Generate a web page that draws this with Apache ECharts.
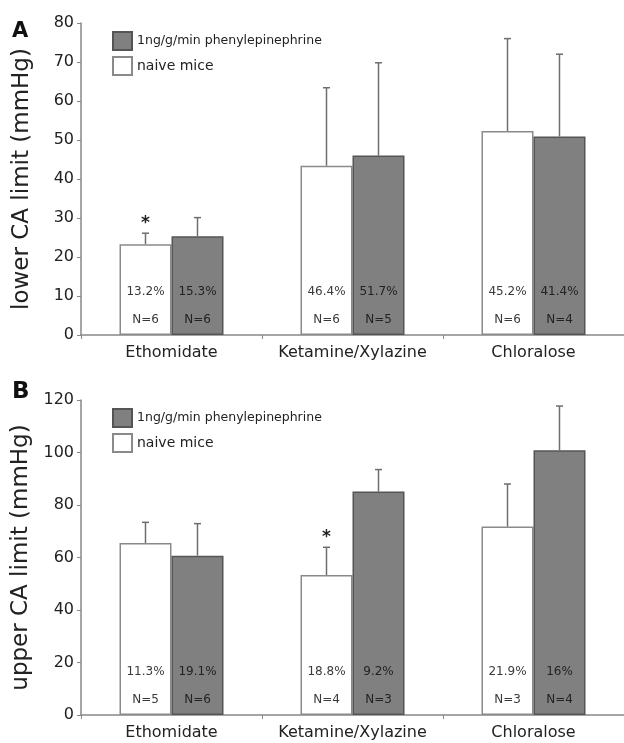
<!DOCTYPE html>
<html><head><meta charset="utf-8">
<script src="https://cdn.jsdelivr.net/npm/echarts@6/dist/echarts.min.js"></script>
<style>html,body{margin:0;padding:0;background:#fff}#c{width:624px;height:743px}</style>
</head><body><div id="c"></div>
<script>
const categories = ['Ethomidate', 'Ketamine/Xylazine', 'Chloralose'];
const seriesNames = ['naive mice', '1ng/g/min phenylepinephrine'];

// Panel A: lower CA limit
const lowerNaive = [23.3, 43.4, 52.3];
const lowerNaiveErr = [2.8, 20.0, 23.7];
const lowerPhe = [25.3, 46.0, 50.9];
const lowerPheErr = [4.8, 23.8, 21.1];
const lowerNaivePct = ['13.2%', '46.4%', '45.2%'];
const lowerPhePct = ['15.3%', '51.7%', '41.4%'];
const lowerNaiveN = ['N=6', 'N=6', 'N=6'];
const lowerPheN = ['N=6', 'N=5', 'N=4'];
const lowerNaiveStar = [true, false, false];
const lowerPheStar = [false, false, false];

// Panel B: upper CA limit
const upperNaive = [65.5, 53.3, 71.8];
const upperNaiveErr = [7.9, 10.6, 16.2];
const upperPhe = [60.7, 85.1, 100.9];
const upperPheErr = [12.2, 8.4, 16.8];
const upperNaivePct = ['11.3%', '18.8%', '21.9%'];
const upperPhePct = ['19.1%', '9.2%', '16%'];
const upperNaiveN = ['N=5', 'N=4', 'N=3'];
const upperPheN = ['N=6', 'N=3', 'N=4'];
const upperNaiveStar = [false, true, false];
const upperPheStar = [false, false, false];

const yTicksA = {min: 0, max: 80, interval: 10};
const yTicksB = {min: 0, max: 120, interval: 20};

const FONT = 'DejaVu Sans';
const BAR_W = 52;
const naiveStyle = {color: '#ffffff', borderColor: '#8a8a8a', borderWidth: 1.5};
const pheStyle = {color: '#808080', borderColor: '#555555', borderWidth: 1.5};

function barSeries(name, idx, vals, style) {
  return {
    type: 'bar', name: name, xAxisIndex: idx, yAxisIndex: idx,
    data: vals, barWidth: BAR_W, barGap: '0%', itemStyle: style,
    emphasis: {disabled: true}, silent: true
  };
}

function annSeries(idx, side, vals, errs, pcts, ns, stars, txtColor) {
  return {
    type: 'custom', xAxisIndex: idx, yAxisIndex: idx, silent: true, z: 5,
    data: vals.map((v, i) => [i, v, v + errs[i]]),
    renderItem: function (params, api) {
      const i = params.dataIndex;
      const top = api.coord([api.value(0), api.value(1)]);
      const err = api.coord([api.value(0), api.value(2)]);
      const zero = api.coord([api.value(0), 0]);
      const x = top[0] + side * BAR_W / 2;
      const lineStyle = {stroke: '#6e6e6e', lineWidth: 1.5};
      const children = [
        {type: 'line', shape: {x1: x, y1: top[1], x2: x, y2: err[1]}, style: lineStyle},
        {type: 'line', shape: {x1: x - 3.5, y1: err[1], x2: x + 3.5, y2: err[1]}, style: lineStyle},
        {type: 'text', x: x, y: zero[1] - 43, style: {text: pcts[i], fill: txtColor, font: '12px "' + FONT + '"', textAlign: 'center', textVerticalAlign: 'middle'}},
        {type: 'text', x: x, y: zero[1] - 15, style: {text: ns[i], fill: txtColor, font: '12px "' + FONT + '"', textAlign: 'center', textVerticalAlign: 'middle'}}
      ];
      if (stars[i]) {
        children.push({type: 'text', x: x, y: err[1] - 10, style: {text: '*', fill: '#222', font: 'bold 17px "' + FONT + '"', textAlign: 'center', textVerticalAlign: 'middle'}});
      }
      return {type: 'group', children: children};
    }
  };
}

function xAxis(idx) {
  return {
    type: 'category', gridIndex: idx, data: categories, boundaryGap: true,
    axisLine: {lineStyle: {color: '#888', width: 1.5}},
    axisTick: {show: true, length: 4, alignWithLabel: false, lineStyle: {color: '#888'}},
    axisLabel: {color: '#222', fontSize: 16, fontFamily: FONT, margin: 10, interval: 0, hideOverlap: false}
  };
}
function yAxis(idx, ticks, name) {
  return {
    type: 'value', gridIndex: idx, min: ticks.min, max: ticks.max, interval: ticks.interval,
    name: name, nameLocation: 'middle', nameGap: 47, nameRotate: 90,
    nameTextStyle: {color: '#222', fontSize: 23, fontFamily: FONT},
    axisLine: {show: true, lineStyle: {color: '#888', width: 1.5}},
    axisTick: {show: true, length: 4, lineStyle: {color: '#888'}},
    axisLabel: {color: '#222', fontSize: 16, fontFamily: FONT, margin: 7},
    splitLine: {show: false}
  };
}
function legend(top) {
  return {
    orient: 'vertical', left: 112, top: top, padding: 0, icon: 'rect',
    itemWidth: 19, itemHeight: 18, itemGap: 5,
    data: [seriesNames[1], seriesNames[0]], selectedMode: false,
    formatter: n => n === 'naive mice' ? '{b|' + n + '}' : '{a|' + n + '}',
    textStyle: {color: '#222', fontFamily: FONT,
      rich: {a: {fontSize: 12.5, fontFamily: FONT, color: '#222'}, b: {fontSize: 14, fontFamily: FONT, color: '#222'}}}
  };
}

const chart = echarts.init(document.getElementById('c'), null, {renderer: 'canvas'});
chart.setOption({
  animation: false,
  backgroundColor: '#fff',
  title: [
    {text: 'A', left: 12, top: 21, padding: 0, textStyle: {fontFamily: 'DejaVu Sans', fontWeight: 'bold', fontSize: 21, color: '#111'}},
    {text: 'B', left: 12, top: 381, padding: 0, textStyle: {fontFamily: 'DejaVu Sans', fontWeight: 'bold', fontSize: 23, color: '#111'}}
  ],
  legend: [legend(31), legend(408)],
  grid: [
    {left: 81, top: 23, height: 312, right: 0},
    {left: 81, top: 400, height: 315, right: 0}
  ],
  xAxis: [xAxis(0), xAxis(1)],
  yAxis: [yAxis(0, yTicksA, 'lower CA limit (mmHg)'), yAxis(1, yTicksB, 'upper CA limit (mmHg)')],
  series: [
    barSeries(seriesNames[0], 0, lowerNaive, naiveStyle),
    barSeries(seriesNames[1], 0, lowerPhe, pheStyle),
    barSeries(seriesNames[0], 1, upperNaive, naiveStyle),
    barSeries(seriesNames[1], 1, upperPhe, pheStyle),
    annSeries(0, -1, lowerNaive, lowerNaiveErr, lowerNaivePct, lowerNaiveN, lowerNaiveStar, '#3a3a3a'),
    annSeries(0, 1, lowerPhe, lowerPheErr, lowerPhePct, lowerPheN, lowerPheStar, '#222'),
    annSeries(1, -1, upperNaive, upperNaiveErr, upperNaivePct, upperNaiveN, upperNaiveStar, '#3a3a3a'),
    annSeries(1, 1, upperPhe, upperPheErr, upperPhePct, upperPheN, upperPheStar, '#222')
  ]
});
</script></body></html>
